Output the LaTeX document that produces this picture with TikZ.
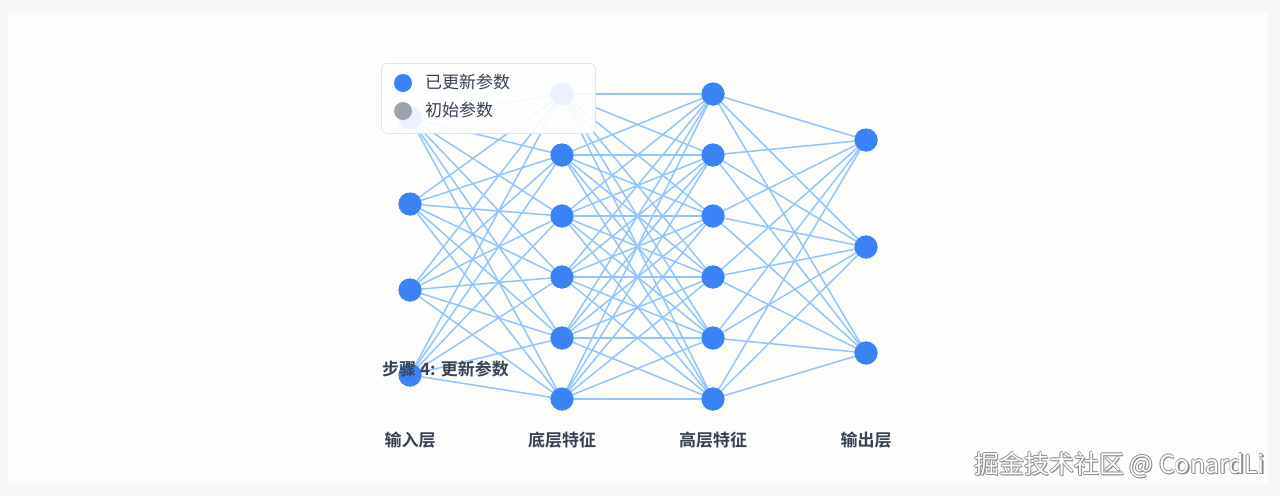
\documentclass[tikz,border=0pt]{standalone}
\usepackage{fontspec}
\setmainfont{Noto Sans CJK SC}
\newfontfamily\cjk{Noto Sans CJK SC}
\newfontfamily\cjkb{Noto Sans CJK SC Bold}
\definecolor{nodeblue}{HTML}{3B82F6}
\definecolor{edgeblue}{HTML}{93C5FD}
\definecolor{initgray}{HTML}{9CA3AF}
\definecolor{txt}{HTML}{374151}
\definecolor{bgout}{HTML}{F6F8F8}
\definecolor{bgin}{HTML}{FDFDFB}
\definecolor{legborder}{HTML}{E2E4E8}
\begin{document}
\begin{tikzpicture}[x=1pt,y=-1pt,
  neuron/.style={circle,fill=nodeblue,minimum size=23pt,inner sep=0pt},
  conn/.style={edgeblue,line width=1.5pt},
  layerlabel/.style={font=\cjkb\fontsize{17}{19}\selectfont,text=txt,anchor=center},
  legdot/.style={circle,minimum size=18pt,inner sep=0pt},
  legtext/.style={font=\cjk\fontsize{17}{19}\selectfont,text=txt,anchor=west},
  wmstyle/.style={font=\cjk\fontsize{25}{27}\selectfont,anchor=east,inner sep=0pt}]
\useasboundingbox (0,0) rectangle (1280,496);
\fill[bgout] (0,0) rectangle (1280,496);
\fill[bgin] (8,12) rectangle (1268,484);
% neurons
\foreach \i/\y in {1/118,2/204,3/290,4/375}{\node[neuron] (a\i) at (410,\y) {};}
\foreach \i/\y in {1/94,2/155,3/216,4/277,5/338,6/399}{\node[neuron] (b\i) at (562,\y) {};}
\foreach \i/\y in {1/94,2/155,3/216,4/277,5/338,6/399}{\node[neuron] (c\i) at (713,\y) {};}
\foreach \i/\y in {1/140,2/247,3/353}{\node[neuron] (d\i) at (866,\y) {};}
% edges
\foreach \i in {1,...,4}{\foreach \j in {1,...,6}{\draw[conn] (a\i.center) -- (b\j.center);}}
\foreach \i in {1,...,6}{\foreach \j in {1,...,6}{\draw[conn] (b\i.center) -- (c\j.center);}}
\foreach \i in {1,...,6}{\foreach \j in {1,...,3}{\draw[conn] (c\i.center) -- (d\j.center);}}
% redraw nodes on top of edges
\foreach \y in {118,204,290,375}{\fill[nodeblue] (410,\y) circle (11.5);}
\foreach \y in {94,155,216,277,338,399}{\fill[nodeblue] (562,\y) circle (11.5); \fill[nodeblue] (713,\y) circle (11.5);}
\foreach \y in {140,247,353}{\fill[nodeblue] (866,\y) circle (11.5);}
% step label
\node[font=\cjkb\fontsize{17}{19}\selectfont,text=txt,anchor=west,inner sep=0pt] (step) at (382,369) {步骤 4: 更新参数};
% layer labels
\node[layerlabel] (l1) at (410,440) {输入层};
\node[layerlabel] (l2) at (562,440) {底层特征};
\node[layerlabel] (l3) at (713,440) {高层特征};
\node[layerlabel] (l4) at (866,440) {输出层};
% legend
\node[draw=legborder,fill=white,fill opacity=0.9,rounded corners=6pt,line width=0.8pt,minimum width=214pt,minimum height=70pt,anchor=north west] (legend) at (381,63) {};
\node[legdot,fill=nodeblue] (ld1) at (403,83) {};
\node[legdot,fill=initgray] (ld2) at (403,111) {};
\node[legtext,inner sep=0pt] (lt1) at (425,82) {已更新参数};
\node[legtext,inner sep=0pt] (lt2) at (425,110) {初始参数};
% watermark
\foreach \dx/\dy in {-0.8/0,0.8/0,0/-0.8,0/0.8,1.2/1.2}{
  \node[wmstyle,text=black!45] at (1265+\dx,465+\dy) {掘金技术社区 @ ConardLi};}
\node[wmstyle,text=white] (wm) at (1265,465) {掘金技术社区 @ ConardLi};
\end{tikzpicture}
\end{document}
